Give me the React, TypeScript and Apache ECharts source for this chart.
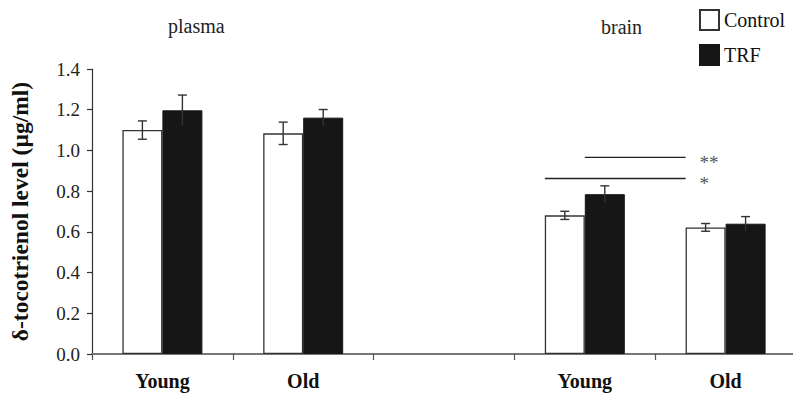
import React, { useEffect, useRef } from "react";
import * as echarts from "echarts";

const categories = ["Young", "Old", "", "Young", "Old"];
const controlMean: (number | null)[] = [1.1, 1.084, null, 0.681, 0.622];
const controlErr: (number | null)[] = [0.045, 0.055, null, 0.02, 0.019];
const trfMean: (number | null)[] = [1.197, 1.161, null, 0.785, 0.64];
const trfErr: (number | null)[] = [0.075, 0.04, null, 0.041, 0.035];
const yTicks = [0, 0.2, 0.4, 0.6, 0.8, 1.0, 1.2, 1.4];

const sigLabels = ["**", "*"];
const sigLevels = [0.966, 0.862];
const sigStartCat = [3, 3];
const sigStartBar = [1, 0]; // 0 = Control bar, 1 = TRF bar
const sigEndCat = [4, 4];

const groupLabels = ["plasma", "brain"];

const FONT = "Times New Roman, Liberation Serif, DejaVu Serif, serif";
const BAR_W = 40;

function errData(mean: (number | null)[], err: (number | null)[]) {
  const out: number[][] = [];
  mean.forEach((m, i) => {
    if (m != null && err[i] != null) out.push([i, m - (err[i] as number), m + (err[i] as number)]);
  });
  return out;
}

function errRender(offset: number, upperOnly: boolean) {
  return (params: any, api: any) => {
    const ci = api.value(0);
    const x = api.coord([ci, 0])[0] + offset;
    const lo = api.coord([ci, api.value(1)])[1];
    const hi = api.coord([ci, api.value(2)])[1];
    const cap = 4.5;
    const st = { stroke: "#333", lineWidth: 1.4 };
    const children: any[] = [
      { type: "line", shape: { x1: x, y1: lo, x2: x, y2: hi }, style: st },
      { type: "line", shape: { x1: x - cap, y1: hi, x2: x + cap, y2: hi }, style: st },
    ];
    if (!upperOnly) children.push({ type: "line", shape: { x1: x - cap, y1: lo, x2: x + cap, y2: lo }, style: st });
    return { type: "group", children };
  };
}

export default function App() {
  const ref = useRef<HTMLDivElement>(null);
  useEffect(() => {
    if (!ref.current) return;
    const chart = echarts.init(ref.current, undefined, { renderer: "svg" });
    const sigData = sigLevels.map((lv, i) => [sigStartCat[i], lv, sigStartBar[i], sigEndCat[i], i]);
    chart.setOption({
      animation: false,
      backgroundColor: "#fff",
      grid: { left: 92, right: -3, top: 69, bottom: 40, containLabel: false, outerBoundsMode: "none" },
      legend: {
        orient: "vertical",
        left: 694,
        top: 4,
        itemWidth: 19,
        itemHeight: 20,
        itemGap: 13,
        icon: "rect",
        textStyle: { fontFamily: FONT, fontSize: 20, color: "#111" },
        data: ["Control", "TRF"],
      },
      xAxis: {
        type: "category",
        data: categories,
        axisLine: { lineStyle: { color: "#777", width: 2 } },
        axisTick: { show: true, length: 6, lineStyle: { color: "#555", width: 1.2 } },
        axisLabel: { fontFamily: FONT, fontSize: 20, fontWeight: "bold", color: "#111", margin: 17 },
      },
      yAxis: {
        type: "value",
        min: 0,
        max: 1.4,
        interval: 0.2,
        splitLine: { show: false },
        axisLine: { show: true, lineStyle: { color: "#333", width: 1.2 } },
        axisTick: { show: true, length: 5, lineStyle: { color: "#333", width: 1.2 } },
        axisLabel: {
          fontFamily: FONT,
          fontSize: 19,
          color: "#222",
          margin: 12,
          formatter: (v: number) => (yTicks.some((t) => Math.abs(t - v) < 1e-9) ? v.toFixed(1) : ""),
        },
        name: "δ-tocotrienol level (µg/ml)",
        nameLocation: "middle",
        nameRotate: 90,
        nameGap: 60,
        nameTextStyle: { fontFamily: FONT, fontSize: 23.5, fontWeight: "bold", color: "#111" },
      },
      graphic: [
        { type: "text", left: 168, top: 16, style: { text: groupLabels[0], fontFamily: FONT, fontSize: 20, fill: "#222" } },
        { type: "text", left: 601, top: 17, style: { text: groupLabels[1], fontFamily: FONT, fontSize: 20, fill: "#222" } },
      ],
      series: [
        {
          name: "Control",
          type: "bar",
          data: controlMean,
          barWidth: BAR_W,
          barGap: "0%",
          itemStyle: { color: "#fff", borderColor: "#333", borderWidth: 1.3 },
          z: 2,
        },
        {
          name: "TRF",
          type: "bar",
          data: trfMean,
          barWidth: BAR_W,
          barGap: "0%",
          itemStyle: { color: "#161616", borderColor: "#161616", borderWidth: 1 },
          z: 2,
        },
        {
          type: "custom",
          data: errData(controlMean, controlErr),
          renderItem: errRender(-BAR_W / 2, false),
          z: 5,
          clip: false,
          silent: true,
        },
        {
          type: "custom",
          data: errData(trfMean, trfErr),
          renderItem: errRender(BAR_W / 2, true),
          z: 5,
          clip: false,
          silent: true,
        },
        {
          type: "custom",
          data: sigData,
          clip: false,
          silent: true,
          z: 5,
          renderItem: (params: any, api: any) => {
            const lv = api.value(1);
            const startCat = api.value(0);
            const side = api.value(2);
            const endCat = api.value(3);
            const idx = api.value(4);
            const p0 = api.coord([startCat, lv]);
            const p1 = api.coord([endCat, lv]);
            const x0 = p0[0] + (side === 0 ? -BAR_W : 0);
            const x1 = p1[0] - BAR_W;
            const y = p0[1];
            return {
              type: "group",
              children: [
                { type: "line", shape: { x1: x0, y1: y, x2: x1, y2: y }, style: { stroke: "#222", lineWidth: 1.3 } },
                {
                  type: "text",
                  x: x1 + 14,
                  y: y + 5,
                  style: {
                    text: sigLabels[idx],
                    fontFamily: FONT,
                    fontSize: 19,
                    fill: "#555",
                    verticalAlign: "middle",
                    align: "left",
                  },
                },
              ],
            };
          },
        },
      ],
    });
    return () => chart.dispose();
  }, []);
  return <div ref={ref} style={{ position: "absolute", left: 0, top: 0, width: 793, height: 394 }} />;
}
